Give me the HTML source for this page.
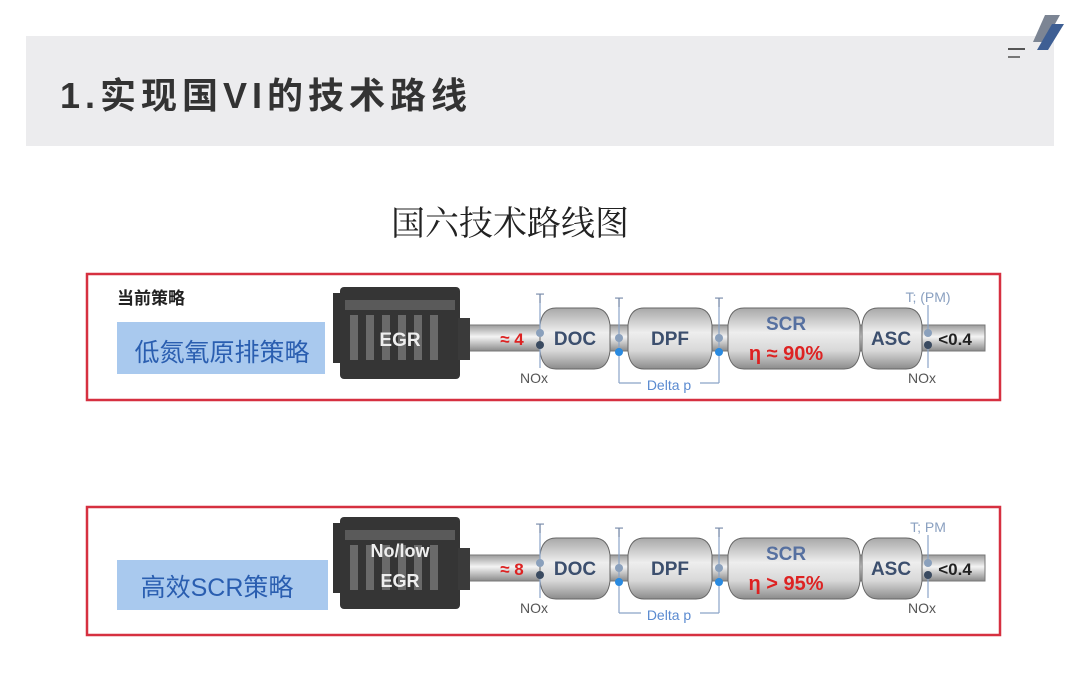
<!DOCTYPE html>
<html><head><meta charset="utf-8"><style>
body{margin:0;width:1080px;height:689px;background:#fff;overflow:hidden;font-family:"Liberation Sans","Noto Sans CJK SC",sans-serif}
</style></head><body>
<svg width="1080" height="689" viewBox="0 0 1080 689" xmlns="http://www.w3.org/2000/svg" font-family="Liberation Sans, Noto Sans CJK SC, sans-serif">
<defs>
<linearGradient id="pg" x1="0" y1="0" x2="0" y2="1"><stop offset="0" stop-color="#9a9a9a"/><stop offset="0.45" stop-color="#f4f4f4"/><stop offset="1" stop-color="#8a8a8a"/></linearGradient>
<linearGradient id="cg" x1="0" y1="0" x2="0" y2="1"><stop offset="0" stop-color="#a8a8a8"/><stop offset="0.4" stop-color="#eeeeee"/><stop offset="0.7" stop-color="#d8d8d8"/><stop offset="1" stop-color="#8c8c8c"/></linearGradient>
<g id="row">
  <rect x="460" y="325" width="525" height="26" fill="url(#pg)" stroke="#777" stroke-width="1"/>
  <rect x="333" y="293" width="8" height="70" fill="#333"/>
  <rect x="340" y="287" width="120" height="92" rx="4" fill="#353535"/>
  <rect x="345" y="300" width="110" height="10" fill="#5a5a5a"/>
  <g fill="#6a6a6a"><rect x="350" y="315" width="8" height="45"/><rect x="366" y="315" width="8" height="45"/><rect x="382" y="315" width="8" height="45"/><rect x="398" y="315" width="8" height="45"/><rect x="414" y="315" width="8" height="45"/><rect x="430" y="315" width="8" height="45"/></g>
  <rect x="458" y="318" width="12" height="42" fill="#3a3a3a"/>
  <path d="M540 325 Q542 308 556 308 L594 308 Q608 308 610 325 L610 351 Q608 369 594 369 L556 369 Q542 369 540 351Z" fill="url(#cg)" stroke="#666"/>
  <path d="M628 325 Q630 308 644 308 L696 308 Q710 308 712 325 L712 351 Q710 369 696 369 L644 369 Q630 369 628 351Z" fill="url(#cg)" stroke="#666"/>
  <path d="M728 325 Q730 308 744 308 L844 308 Q858 308 860 325 L860 351 Q858 369 844 369 L744 369 Q730 369 728 351Z" fill="url(#cg)" stroke="#666"/>
  <path d="M862 325 Q864 308 878 308 L906 308 Q920 308 922 325 L922 351 Q920 369 906 369 L878 369 Q864 369 862 351Z" fill="url(#cg)" stroke="#666"/>
  <g font-weight="bold" font-size="19" text-anchor="middle">
    <text x="575" y="345" fill="#3c4f6e">DOC</text>
    <text x="670" y="345" fill="#3c4f6e">DPF</text>
    <text x="891" y="345" fill="#3c4f6e">ASC</text>
    <text x="786" y="330" fill="#5670a0">SCR</text>
  </g>
  <text x="955" y="345" font-size="17" font-weight="bold" fill="#222" text-anchor="middle">&lt;0.4</text>
  <g stroke="#8aa4c8" stroke-width="1.2" fill="none">
    <line x1="540" y1="303" x2="540" y2="332"/><line x1="540" y1="345" x2="540" y2="368"/>
    <line x1="619" y1="307" x2="619" y2="383"/><line x1="719" y1="307" x2="719" y2="383"/>
    <line x1="619" y1="383" x2="641" y2="383"/><line x1="700" y1="383" x2="719" y2="383"/>
    <line x1="928" y1="305" x2="928" y2="332"/><line x1="928" y1="345" x2="928" y2="368"/>
  </g>
  <g><circle cx="540" cy="333" r="4" fill="#8aa0bc"/><circle cx="540" cy="345" r="4" fill="#3a4a60"/>
  <circle cx="619" cy="338" r="4" fill="#8aa0bc"/><circle cx="619" cy="352" r="4" fill="#2a8ae0"/>
  <circle cx="719" cy="338" r="4" fill="#8aa0bc"/><circle cx="719" cy="352" r="4" fill="#2a8ae0"/>
  <circle cx="928" cy="333" r="4" fill="#8aa0bc"/><circle cx="928" cy="345" r="4" fill="#3a4a60"/></g>
  <g font-size="14" fill="#778aa8" text-anchor="middle">
    <text x="540" y="303">T</text><text x="619" y="307">T</text><text x="719" y="307">T</text>
    <text x="669" y="390" fill="#5a8ad0">Delta p</text>
  </g>
  <g font-size="14" fill="#555" text-anchor="middle"><text x="534" y="383">NOx</text><text x="922" y="383">NOx</text></g>
</g>
</defs>
<rect x="26" y="36" width="1028" height="110" fill="#ececee"/>
<text x="60" y="108" font-size="36" font-weight="bold" fill="#333" letter-spacing="5">1.实现国VI的技术路线</text>
<line x1="1008" y1="49" x2="1025" y2="49" stroke="#555" stroke-width="2"/>
<line x1="1008" y1="57" x2="1020" y2="57" stroke="#777" stroke-width="2"/>
<polygon points="1045,15 1060,15 1045,42 1033,42" fill="#7c8594"/>
<polygon points="1052,24 1064,24 1048,50 1037,50" fill="#3e5f94"/>
<text x="510" y="235" font-size="34" fill="#222" text-anchor="middle" font-family="Noto Serif CJK SC, serif">国六技术路线图</text>

<rect x="87" y="274" width="913" height="126" fill="none" stroke="#d63040" stroke-width="2.5"/>
<text x="117" y="304" font-size="17" font-weight="bold" fill="#222">当前策略</text>
<rect x="117" y="322" width="208" height="52" fill="#a9c9ee"/>
<text x="222" y="361" font-size="25" fill="#2a5eb0" text-anchor="middle">低氮氧原排策略</text>
<use href="#row"/>
<text x="400" y="346" font-size="19" font-weight="bold" fill="#eee" text-anchor="middle">EGR</text>
<text x="512" y="345" font-size="17" font-weight="bold" fill="#d22" text-anchor="middle">≈ 4</text>
<text x="786" y="360" font-size="20" font-weight="bold" fill="#d22" text-anchor="middle">η ≈ 90%</text>
<text x="928" y="302" font-size="14" fill="#8aa0c0" text-anchor="middle">T; (PM)</text>

<rect x="87" y="507" width="913" height="128" fill="none" stroke="#d63040" stroke-width="2.5"/>
<rect x="117" y="560" width="211" height="50" fill="#a9c9ee"/>
<text x="217" y="596" font-size="25" fill="#2a5eb0" text-anchor="middle">高效SCR策略</text>
<g transform="translate(0,230)"><use href="#row"/>
<text x="400" y="327" font-size="18" font-weight="bold" fill="#eee" text-anchor="middle">No/low</text>
<text x="400" y="357" font-size="18" font-weight="bold" fill="#eee" text-anchor="middle">EGR</text>
<text x="512" y="345" font-size="17" font-weight="bold" fill="#d22" text-anchor="middle">≈ 8</text>
<text x="786" y="360" font-size="20" font-weight="bold" fill="#d22" text-anchor="middle">η &gt; 95%</text>
<text x="928" y="302" font-size="14" fill="#8aa0c0" text-anchor="middle">T; PM</text>
</g>
</svg>
</body></html>
